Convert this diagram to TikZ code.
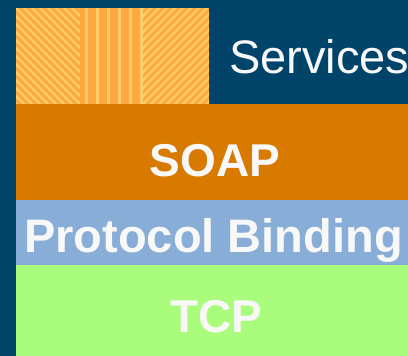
\documentclass[tikz,border=0pt]{standalone}
\usepackage{fontspec}
\setmainfont{Liberation Sans}
\definecolor{bgblue}{HTML}{00446A}
\definecolor{boxorange}{HTML}{FFA83F}
\definecolor{stripe}{HTML}{FFCE6A}
\definecolor{soaporange}{HTML}{D97A00}
\definecolor{protblue}{HTML}{88AED8}
\definecolor{tcpgreen}{HTML}{AAFC7C}
\definecolor{txt}{HTML}{F8F8F8}
\tikzset{
  layer/.style={inner sep=0pt, outer sep=0pt, anchor=base, text=txt},
  boldlabel/.style={layer, font=\fontsize{46}{46}\selectfont\bfseries},
}
\begin{document}
\begin{tikzpicture}[x=1pt,y=-1pt]
\useasboundingbox (0,0) rectangle (408,356);
\fill[bgblue] (0,0) rectangle (408,356);
% services pattern box
\fill[boxorange] (16,8) rectangle (209,104);
\begin{scope}
  \clip (16,8) rectangle (80,104);
  \foreach \i in {-120,-112,...,80}
    \draw[stripe, line width=2.4pt] (16+\i,8) -- (16+\i+100,108);
\end{scope}
\begin{scope}
  \clip (143,8) rectangle (209,104);
  \foreach \i in {0,8,...,200}
    \draw[stripe, line width=2.4pt] (143+\i,8) -- (143+\i-100,108);
\end{scope}
\foreach \x in {86.5,97.5,108.5,119.5,130.5,141.5}
  \fill[stripe] (\x-1.5,8) rectangle (\x+1.5,104);
\node[layer, anchor=base west, font=\fontsize{47}{47}\selectfont] (services) at (229,74) {Services};
% bands
\fill[soaporange] (16,104) rectangle (408,200);
\fill[protblue] (16,200) rectangle (408,265);
\fill[tcpgreen] (16,265) rectangle (408,356);
\node[boldlabel] (soap) at (215,176) {SOAP};
\node[boldlabel, font=\fontsize{47}{47}\selectfont\bfseries] (binding) at (213.5,252) {Protocol Binding};
\node[boldlabel] (tcp) at (216.5,332) {TCP};
\end{tikzpicture}
\end{document}
